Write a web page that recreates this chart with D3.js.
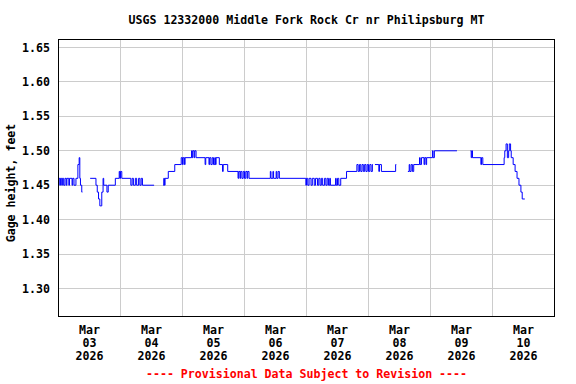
<!DOCTYPE html>
<html lang="en">
<head>
<meta charset="UTF-8">
<title>USGS 12332000 Middle Fork Rock Cr nr Philipsburg MT</title>
<script src="https://d3js.org/d3.v7.min.js"></script>
<style>
  body { margin: 0; background: #fff; }
  text { font-family: "DejaVu Sans Mono", "Liberation Mono", monospace; font-weight: bold; font-size: 11.6px; }
</style>
</head>
<body>
<div id="chart"></div>
<script>
// chart data: hours after Mar 03 2026 00:00, gage height in feet (null = gap in record)
const title = 'USGS 12332000 Middle Fork Rock Cr nr Philipsburg MT';
const yLabel = 'Gage height, feet';
const footnote = '---- Provisional Data Subject to Revision ----';
const yTicks = [1.30, 1.35, 1.40, 1.45, 1.50, 1.55, 1.60, 1.65];
const dayLabels = ['03', '04', '05', '06', '07', '08', '09', '10'];

const readings = [
  [0,1.46],[0.5,1.45],[0.75,1.46],[1.25,1.45],[1.5,1.46],[2,1.45],[2.5,1.46],[3,1.45],[3.25,1.46],
  [4,1.45],[4.25,1.46],[5.25,1.45],[5.5,1.46],[6,1.45],[6.75,1.46],[7.5,1.48],[8,1.49],[8.25,1.46],
  [8.5,1.45],[9,1.44],[9.25,null],
  [12.25,1.46],[14.5,1.45],[15,1.44],[15.5,1.43],[16,1.42],[16.75,1.44],[17.25,1.46],[17.5,1.45],
  [18.75,1.44],[19.25,1.45],[22,1.46],[23.5,1.47],[23.75,1.46],[24,1.47],[24.5,1.46],
  [28,1.45],[28.5,1.46],[29,1.45],[29.75,1.46],[30.25,1.45],[31,1.46],[31.5,1.45],[32,1.46],[32.5,1.45],
  [37,null],
  [40.5,1.45],[40.75,1.46],[41,1.45],[41.25,1.46],[42.5,1.47],[45,1.48],[47.5,1.49],[48,1.48],
  [48.25,1.49],[48.75,1.48],[49,1.49],
  [51.5,1.50],[51.75,1.49],[52,1.50],[52.5,1.49],[52.75,1.50],[53.25,1.49],[56.75,1.48],[57,1.49],
  [58.25,1.48],[58.5,1.49],[59,1.48],[59.5,1.49],[60,1.48],[60.5,1.49],[60.75,1.48],[61,1.49],
  [62.25,1.48],[63.5,1.47],[63.75,1.48],[65.5,1.47],
  [69.5,1.46],[69.75,1.47],[70.25,1.46],[70.5,1.47],[71,1.46],[71.5,1.47],[72,1.46],[72.5,1.47],
  [73,1.46],[73.25,1.47],[73.75,1.46],
  [82,1.47],[82.25,1.46],[83,1.47],[83.25,1.46],[84.25,1.47],[84.5,1.46],[85,1.47],[85.5,1.46],
  [95.75,1.45],[96,1.46],[96.5,1.45],[97,1.46],[97.75,1.45],[98.25,1.46],[99,1.45],[99.5,1.46],
  [100.25,1.45],[100.75,1.46],[101.25,1.45],[101.75,1.46],[102.25,1.45],[103,1.46],[103.5,1.45],
  [104,1.46],[104.5,1.45],[105,1.46],[105.25,1.45],
  [107.25,1.46],[107.5,1.45],[108,1.46],[108.5,1.45],[109.25,1.46],[111.5,1.47],[115.5,1.48],
  [116,1.47],[116.5,1.48],[117,1.47],[117.5,1.48],[118,1.47],[118.5,1.48],[119,1.47],[119.5,1.48],
  [120,1.47],[120.5,1.48],[121,1.47],[121.5,1.48],[121.75,null],
  [122.5,1.48],[124,1.47],[124.25,1.48],[125,1.47],[130.5,1.48],[130.75,null],
  [135.25,1.47],[135.75,1.48],[136,1.47],[136.5,1.48],[137,1.47],[137.5,1.48],[139.75,1.49],
  [140,1.48],[140.5,1.49],[141.5,1.48],[141.75,1.49],[142.25,1.48],[142.5,1.49],[144.75,1.50],
  [145,1.49],[145.5,1.50],[154.25,null],
  [159.5,1.50],[159.75,1.49],[160,1.50],[160.25,1.49],[163.5,1.48],[163.75,1.49],[164.25,1.48],
  [172.5,1.49],[172.75,1.50],[173.25,1.51],[173.75,1.49],[174.25,1.50],[174.5,1.51],[175,1.50],
  [175.25,1.49],[176,1.48],[176.75,1.47],[177.5,1.46],[178.25,1.45],[179,1.44],[179.5,1.43],[180.5,1.43]
];

const width = 576, height = 384;
const plotLeft = 58.5, plotRight = 554.5, plotTop = 39.5, plotBottom = 316.5;
const t0 = Date.UTC(2026, 2, 3);
const toDate = h => new Date(t0 + h * 3600e3);

const svg = d3.select('#chart').append('svg')
  .attr('width', width)
  .attr('height', height);

const x = d3.scaleUtc()
  .domain([toDate(0), toDate(24 * 8)])
  .range([plotLeft, plotRight]);

const y = d3.scaleLinear()
  .domain([1.30, 1.65])
  .range([288.5, 47.5]);

const crisp = v => Math.round(v - 0.5) + 0.5;

// grid
svg.append('g')
  .selectAll('line')
  .data(yTicks)
  .join('line')
  .attr('x1', plotLeft).attr('x2', plotRight)
  .attr('y1', d => crisp(y(d)))
  .attr('y2', d => crisp(y(d)))
  .attr('stroke', '#cccccc');

const dayTicks = d3.range(1, 8).map(i => toDate(i * 24));
svg.append('g')
  .selectAll('line')
  .data(dayTicks)
  .join('line')
  .attr('x1', d => crisp(x(d)))
  .attr('x2', d => crisp(x(d)))
  .attr('y1', plotTop).attr('y2', plotBottom)
  .attr('stroke', '#cccccc');

// data line, split at gaps
const segments = [];
let cur = [];
readings.forEach(([h, v]) => {
  if (v === null) {
    if (cur.length) { cur.push([h, cur[cur.length - 1][1]]); segments.push(cur); }
    cur = [];
  } else {
    cur.push([h, v]);
  }
});
if (cur.length) segments.push(cur);

const line = d3.line()
  .x(d => x(toDate(d[0])))
  .y(d => y(d[1]))
  .curve(d3.curveStepAfter);

svg.append('g')
  .selectAll('path')
  .data(segments)
  .join('path')
  .attr('d', line)
  .attr('fill', 'none')
  .attr('stroke', '#0000ff')
  .attr('stroke-width', 1);

// frame
svg.append('rect')
  .attr('x', plotLeft).attr('y', plotTop)
  .attr('width', plotRight - plotLeft).attr('height', plotBottom - plotTop)
  .attr('fill', 'none')
  .attr('stroke', '#000');

// y tick labels
svg.append('g')
  .selectAll('text')
  .data(yTicks)
  .join('text')
  .attr('x', 50)
  .attr('y', d => y(d) + 4)
  .attr('text-anchor', 'end')
  .text(d => d.toFixed(2));

// x labels at noon of each day
const fmtMon = d3.utcFormat('%b');
const fmtYear = d3.utcFormat('%Y');
const days = svg.append('g')
  .selectAll('g')
  .data(dayLabels)
  .join('g')
  .attr('transform', (d, i) => `translate(${x(toDate(i * 24 + 12))},0)`);
days.append('text').attr('y', 334).attr('text-anchor', 'middle').text((d, i) => fmtMon(toDate(i * 24)));
days.append('text').attr('y', 347).attr('text-anchor', 'middle').text(d => d);
days.append('text').attr('y', 360).attr('text-anchor', 'middle').text((d, i) => fmtYear(toDate(i * 24)));

// titles
svg.append('text')
  .attr('x', (plotLeft + plotRight) / 2)
  .attr('y', 24)
  .attr('text-anchor', 'middle')
  .text(title);

svg.append('text')
  .attr('transform', 'translate(15,183) rotate(-90)')
  .attr('text-anchor', 'middle')
  .text(yLabel);

svg.append('text')
  .attr('x', (plotLeft + plotRight) / 2)
  .attr('y', 378)
  .attr('text-anchor', 'middle')
  .attr('fill', '#ff0000')
  .text(footnote);
</script>
</body>
</html>
